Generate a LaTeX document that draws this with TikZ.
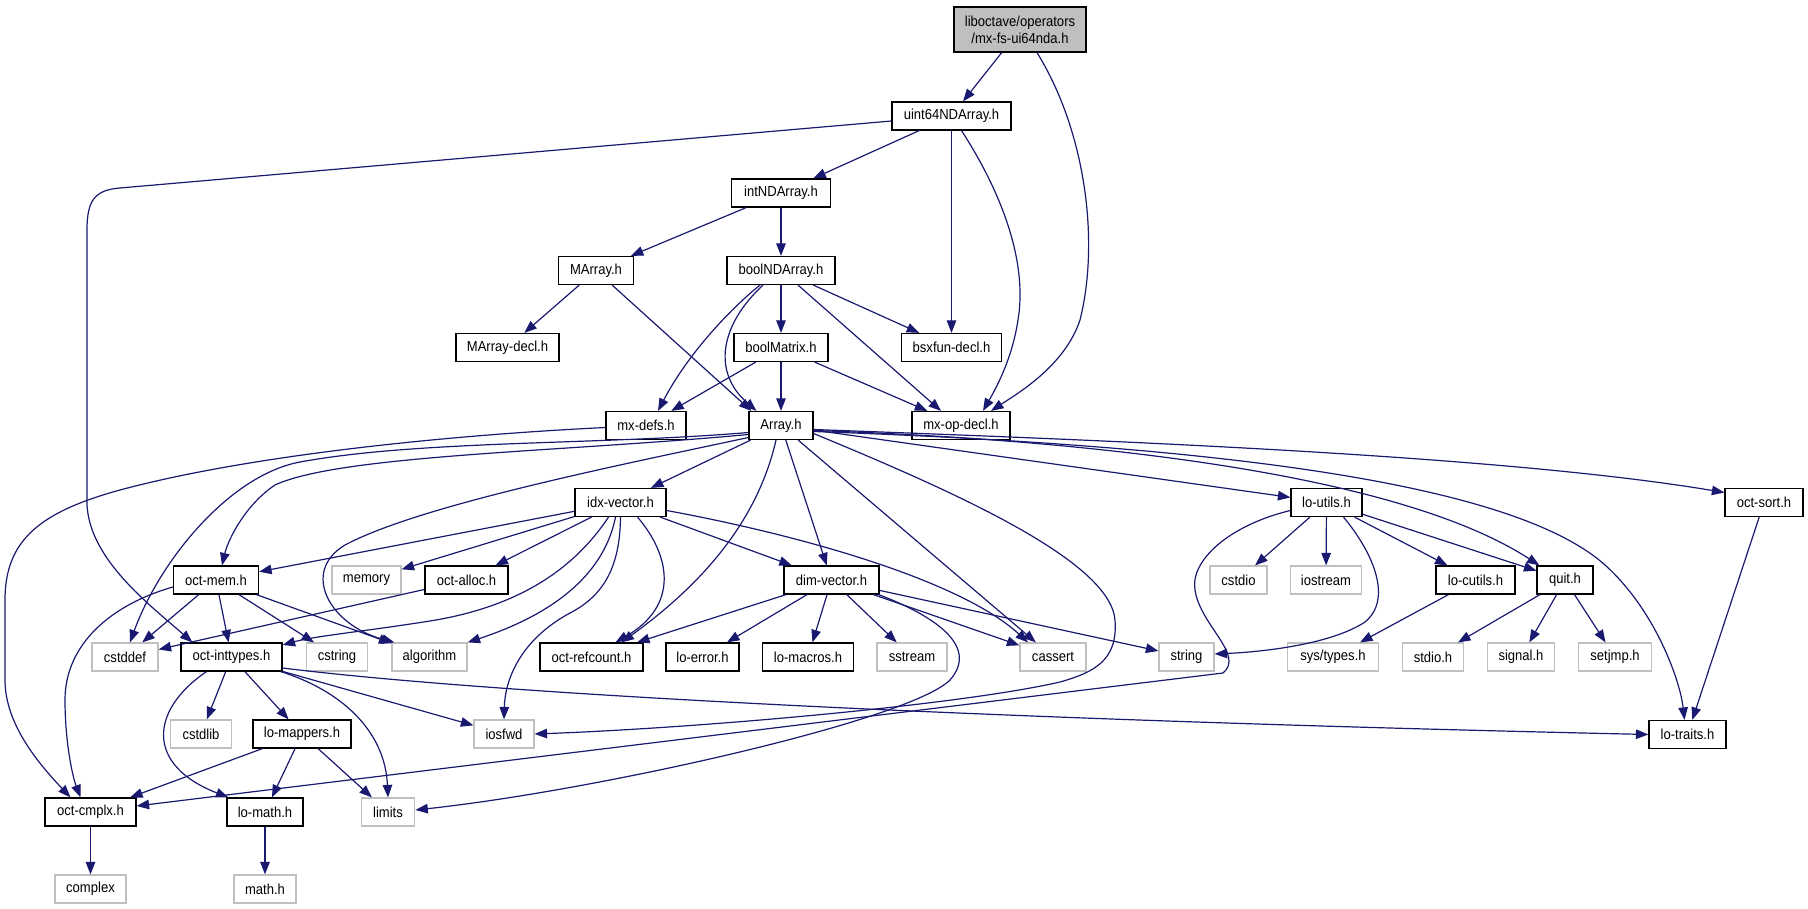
\documentclass[tikz,border=0pt]{standalone}
\usepackage{fontspec}
\setmainfont{Liberation Sans}[FakeStretch=0.9]
\usetikzlibrary{arrows.meta}
\definecolor{edgeblue}{HTML}{191970}
\definecolor{sysgray}{HTML}{BFBFBF}
\begin{document}
\begin{tikzpicture}[x=1pt,y=-1pt,
  nd/.style={draw=black, line width=1.2pt, inner sep=0pt, minimum height=28pt,
    font=\fontsize{14.5pt}{17pt}\selectfont, text=black, fill=white},
  sys/.style={nd, draw=sysgray},
  wd/.style={minimum width=#1pt},
  e/.style={draw=edgeblue, line width=1.2pt, -{Triangle[length=12.5pt,width=9.5pt]}},
]
\useasboundingbox (0,0) rectangle (1808,909);

% ---------- nodes ----------
\node[nd,fill=sysgray,wd=132,minimum height=45pt,align=center] (mxfs) at (1020,29.5) {liboctave/operators\\/mx-fs-ui64nda.h};
\node[nd,wd=119] (uint64) at (951.5,116) {uint64NDArray.h};
\node[nd,wd=99] (intND) at (781,193) {intNDArray.h};
\node[nd,wd=75] (MArray) at (596,270.5) {MArray.h};
\node[nd,wd=108] (boolND) at (781,270.5) {boolNDArray.h};
\node[nd,wd=103] (MArraydecl) at (507.5,347.5) {MArray-decl.h};
\node[nd,wd=94] (boolMatrix) at (781,347.5) {boolMatrix.h};
\node[nd,wd=100] (bsxfun) at (951.5,347.5) {bsxfun-decl.h};
\node[nd,wd=80] (mxdefs) at (646,425.5) {mx-defs.h};
\node[nd,wd=64] (Array) at (781,425.5) {Array.h};
\node[nd,wd=98] (mxop) at (961,425.5) {mx-op-decl.h};
\node[nd,wd=91] (idx) at (620.5,502.5) {idx-vector.h};
\node[nd,wd=71] (loutils) at (1326.5,502.5) {lo-utils.h};
\node[nd,wd=78] (octsort) at (1764,502.5) {oct-sort.h};
\node[nd,wd=85] (octmem) at (216,580) {oct-mem.h};
\node[sys,wd=69] (memory) at (366.5,580) {memory};
\node[nd,wd=83] (octalloc) at (466.5,580) {oct-alloc.h};
\node[nd,wd=95] (dim) at (831.5,580) {dim-vector.h};
\node[sys,wd=57] (cstdio) at (1238.5,580) {cstdio};
\node[sys,wd=71] (iostream) at (1326,580) {iostream};
\node[nd,wd=79] (locutils) at (1475.5,580) {lo-cutils.h};
\node[nd,wd=56] (quit) at (1565,580) {quit.h};
\node[sys,wd=66] (cstddef) at (125,657) {cstddef};
\node[nd,wd=101] (inttypes) at (231.5,657) {oct-inttypes.h};
\node[sys,wd=61.5] (cstring) at (337,657) {cstring};
\node[sys,wd=75] (algorithm) at (429.5,657) {algorithm};
\node[nd,wd=103] (refcount) at (591.5,657) {oct-refcount.h};
\node[nd,wd=73] (loerror) at (702.5,657) {lo-error.h};
\node[nd,wd=91] (lomacros) at (808,657) {lo-macros.h};
\node[sys,wd=70] (sstream) at (912,657) {sstream};
\node[sys,wd=66] (cassert) at (1053,657) {cassert};
\node[sys,wd=55] (string) at (1186.5,657) {string};
\node[sys,wd=90.5] (systypes) at (1333,657) {sys/types.h};
\node[sys,wd=61.5] (stdioh) at (1433,657) {stdio.h};
\node[sys,wd=67] (signalh) at (1521,657) {signal.h};
\node[sys,wd=73] (setjmph) at (1615,657) {setjmp.h};
\node[sys,wd=60.5] (cstdlib) at (201,734) {cstdlib};
\node[nd,wd=98] (lomappers) at (302,734) {lo-mappers.h};
\node[sys,wd=60] (iosfwd) at (504,734) {iosfwd};
\node[nd,wd=77] (lotraits) at (1687.5,734.5) {lo-traits.h};
\node[nd,wd=91] (octcmplx) at (90.5,812) {oct-cmplx.h};
\node[nd,wd=76] (lomath) at (265,812) {lo-math.h};
\node[sys,wd=53.5] (limits) at (388,812) {limits};
\node[sys,wd=71] (complex) at (90.5,889) {complex};
\node[sys,wd=62] (mathh) at (265,889) {math.h};

% ---------- edges ----------
% top
\draw[e] (mxfs) -- (uint64);
\draw[e] ([xshift=17pt]mxfs.south) .. controls (1085,130) and (1100,240) .. (1080,320)
   .. controls (1065,365) and (1020,392) .. ([xshift=30pt]mxop.north);
\draw[e] ([yshift=-5pt]uint64.west) -- (120,188) .. controls (95,190) and (87,200) .. (87,230)
   -- (87,505) .. controls (90,560) and (150,605) .. ([xshift=12pt]inttypes.north west);
\draw[e] (uint64) -- (intND);
\draw[e] (uint64) -- (bsxfun);
\draw[e] ([xshift=10pt]uint64.south) .. controls (1000,190) and (1028,260) .. (1018,320)
   .. controls (1012,360) and (995,390) .. ([xshift=22pt]mxop.north);
\draw[e] (intND) -- (MArray);
\draw[e] (intND) -- (boolND);
\draw[e] (MArray) -- (MArraydecl);
\draw[e] (MArray) -- ([xshift=3pt]Array.north west);
\draw[e] ([xshift=-21pt]boolND.south) .. controls (735,305) and (690,350) .. ([xshift=12pt]mxdefs.north);
\draw[e] ([xshift=-18pt]boolND.south) .. controls (720,325) and (712,372) .. ([xshift=8pt]Array.north west);
\draw[e] (boolND) -- (boolMatrix);
\draw[e] ([xshift=17pt]boolND.south) -- ([xshift=-20pt]mxop.north);
\draw[e] (boolND) -- (bsxfun);
\draw[e] (boolMatrix) -- (mxdefs);
\draw[e] (boolMatrix) -- (Array);
\draw[e] (boolMatrix) -- (mxop);
% mx-defs
\draw[e] ([yshift=-2pt]mxdefs.west) .. controls (450,435) and (250,455) .. (120,490)
   .. controls (40,512) and (5,540) .. (5,600) -- (5,680)
   .. controls (5,725) and (40,765) .. ([xshift=-20pt]octcmplx.north);
% Array
\draw[e] ([yshift=-7pt]Array.west) .. controls (600,445) and (420,440) .. (300,462)
   .. controls (230,475) and (160,560) .. ([xshift=5pt]cstddef.north);
\draw[e] ([yshift=-9pt]Array.west) .. controls (560,452) and (340,455) .. (275,485)
   .. controls (245,505) and (228,540) .. ([xshift=6pt]octmem.north);
\draw[e] (Array) -- (idx);
\draw[e] ([yshift=-12pt]Array.west) .. controls (620,465) and (420,505) .. (345,545)
   .. controls (300,572) and (330,625) .. ([xshift=3pt]algorithm.north west);
\draw[e] ([xshift=-5pt]Array.south) .. controls (760,510) and (715,575) .. ([xshift=30pt]refcount.north);
\draw[e] (Array) -- (dim);
\draw[e] (Array) -- (cassert);
\draw[e] ([yshift=-8pt]Array.east) .. controls (950,490) and (1110,560) .. (1115,620)
   .. controls (1118,660) and (1095,672) .. (1060,682)
   .. controls (960,705) and (700,728) .. (iosfwd.east);
\draw[e] (Array) -- (loutils);
\draw[e] ([yshift=-5pt]Array.east) .. controls (1100,440) and (1400,475) .. ([xshift=3pt]quit.north west);
\draw[e] ([yshift=-4pt]Array.east) .. controls (1100,440) and (1500,455) .. ([yshift=10pt]octsort.west);
\draw[e] ([yshift=-6pt]Array.east) .. controls (1200,445) and (1510,480) .. (1605,565)
   .. controls (1655,610) and (1680,680) .. ([xshift=-3pt]lotraits.north);
% idx-vector
\draw[e] (idx) -- (octmem);
\draw[e] (idx) -- (memory);
\draw[e] (idx) -- (octalloc);
\draw[e] ([xshift=-12pt]idx.south) .. controls (580,560) and (530,605) .. (430,621)
   .. controls (360,632) and (315,636) .. ([yshift=12pt]inttypes.east);
\draw[e] ([xshift=-5pt]idx.south) .. controls (605,570) and (560,612) .. (algorithm.north east);
\draw[e] (idx.south) .. controls (620,565) and (605,595) .. (570,613)
   .. controls (520,640) and (505,680) .. (iosfwd.north);
\draw[e] ([xshift=17pt]idx.south) .. controls (670,555) and (680,605) .. ([xshift=24pt]refcount.north);
\draw[e] (idx) -- (dim);
\draw[e] ([yshift=-8pt]idx.east) .. controls (800,535) and (960,580) .. ([xshift=-25pt]cassert.north);
% oct-mem, oct-alloc
\draw[e] (octmem) -- (cstddef);
\draw[e] (octmem) -- (inttypes);
\draw[e] (octmem) -- (cstring);
\draw[e] (octmem) -- (algorithm);
\draw[e] ([yshift=-7pt]octmem.west) .. controls (110,605) and (65,645) .. (65,700)
   .. controls (65,740) and (72,775) .. ([xshift=-10pt]octcmplx.north);
\draw[e] (octalloc) -- (cstddef);
% dim-vector
\draw[e] (dim) -- (refcount);
\draw[e] (dim) -- (loerror);
\draw[e] (dim) -- (lomacros);
\draw[e] (dim) -- (sstream);
\draw[e] (dim) -- (cassert);
\draw[e] (dim) -- (string);
\draw[e] ([xshift=-1pt]dim.south east) .. controls (940,618) and (978,648) .. (950,680)
   .. controls (910,720) and (600,790) .. ([yshift=2pt]limits.east);
% oct-inttypes
\draw[e] ([xshift=-25pt]inttypes.south) .. controls (150,710) and (145,765) .. ([xshift=2pt]lomath.north west);
\draw[e] (inttypes) -- (cstdlib);
\draw[e] (inttypes) -- (lomappers);
\draw[e] ([xshift=-2pt]inttypes.south east) .. controls (340,690) and (385,730) .. (limits.north);
\draw[e] (inttypes) -- (iosfwd);
\draw[e] ([yshift=-11pt]inttypes.east) .. controls (500,695) and (1000,720) .. (lotraits.west);
% lo-mappers etc.
\draw[e] (lomappers) -- (octcmplx);
\draw[e] (lomappers) -- (lomath);
\draw[e] (lomappers) -- (limits);
\draw[e] (octcmplx) -- (complex);
\draw[e] (lomath) -- (mathh);
% lo-utils
\draw[e] ([yshift=-8pt]loutils.west) .. controls (1230,525) and (1190,560) .. (1195,590)
   .. controls (1200,625) and (1245,655) .. (1223,673) -- ([yshift=6pt]octcmplx.east);
\draw[e] (loutils) -- (cstdio);
\draw[e] (loutils) -- (iostream);
\draw[e] ([xshift=17pt]loutils.south) .. controls (1375,555) and (1392,600) .. (1365,622)
   .. controls (1330,645) and (1260,652) .. ([yshift=3pt]string.east);
\draw[e] (loutils) -- (locutils);
\draw[e] (loutils) -- (quit);
\draw[e] (locutils) -- (systypes);
\draw[e] (quit) -- (stdioh);
\draw[e] (quit) -- (signalh);
\draw[e] (quit) -- (setjmph);
\draw[e] (octsort) -- (lotraits);
\end{tikzpicture}
\end{document}
